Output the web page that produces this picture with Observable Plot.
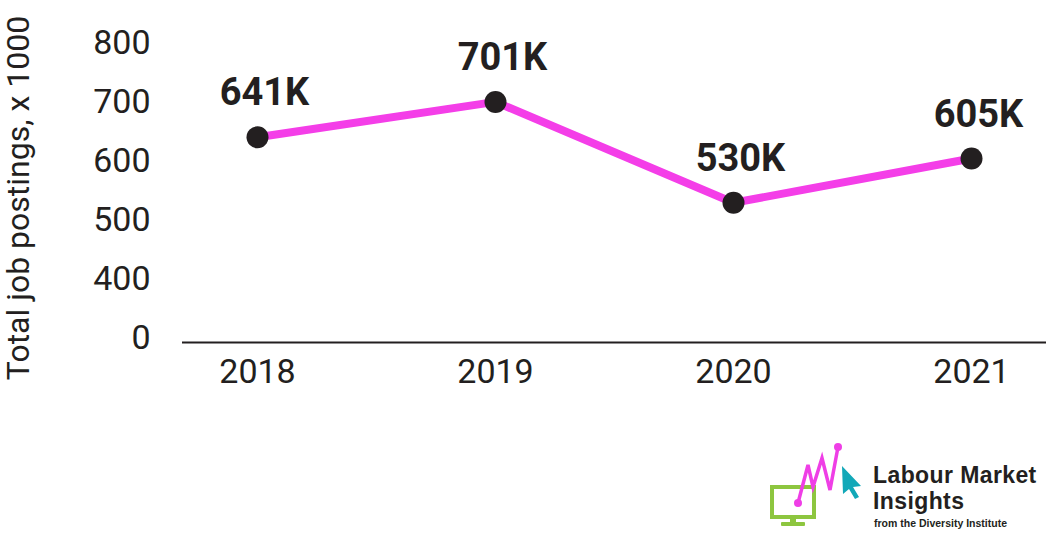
<!DOCTYPE html>
<html>
<head>
<meta charset="utf-8">
<script src="https://cdn.jsdelivr.net/npm/d3@7"></script>
<script src="https://cdn.jsdelivr.net/npm/@observablehq/plot@0.6"></script>
<style>
  html, body { margin: 0; padding: 0; background: #fff; }
  body { width: 1050px; height: 533px; position: relative; overflow: hidden; font-family: Roboto, sans-serif; }
  #logo { position: absolute; left: 0; top: 0; width: 1050px; height: 533px; pointer-events: none; }
</style>
</head>
<body>
<div id="chart"></div>
<svg id="logo" width="1050" height="533" xmlns="http://www.w3.org/2000/svg">
  <g>
    <rect x="772" y="487" width="42" height="30" fill="none" stroke="#8dc63f" stroke-width="4"/>
    <rect x="790" y="517" width="6" height="6" fill="#8dc63f"/>
    <rect x="781" y="522" width="24" height="4" rx="1" fill="#8dc63f"/>
    <polyline points="798,503 808,465 813,487 822,458 830,490 838,447" fill="none" stroke="#ef3ee6" stroke-width="3.5" stroke-linejoin="miter"/>
    <circle cx="798" cy="503" r="4" fill="#ef3ee6"/>
    <circle cx="838" cy="447" r="4" fill="#ef3ee6"/>
    <polygon points="842,466 861,486 853,487 859,497 855,499 849,489 843,494" fill="#12a8b8"/>
    <text x="873" y="483" font-family="'Liberation Sans', Arial, sans-serif" font-weight="bold" font-size="23" fill="#231f20" letter-spacing="0.4">Labour Market</text>
    <text x="873" y="509" font-family="'Liberation Sans', Arial, sans-serif" font-weight="bold" font-size="23" fill="#231f20" letter-spacing="0.4">Insights</text>
    <text x="874" y="527" font-family="'Liberation Sans', Arial, sans-serif" font-weight="bold" font-size="10.5" fill="#231f20">from the Diversity Institute</text>
  </g>
</svg>
<script>
const years = ["2018", "2019", "2020", "2021"];
const postings = [641, 701, 530, 605];
const valueLabels = ["641K", "701K", "530K", "605K"];
const yTicks = [300, 400, 500, 600, 700, 800];
const yTickLabels = ["0", "400", "500", "600", "700", "800"];
const yTitle = "Total job postings, x 1000";

const data = years.map((year, i) => ({year, value: postings[i], label: valueLabels[i]}));
const ink = "#231f20";
const magenta = "#f43ee8";

const chart = Plot.plot({
  width: 1050,
  height: 400,
  marginLeft: 182,
  marginRight: 4,
  marginTop: 43,
  marginBottom: 62,
  style: {fontFamily: "Roboto, sans-serif", fontSize: "34px", color: ink, background: "transparent", overflow: "visible"},
  x: {type: "point", domain: years, padding: 0.31, label: null},
  y: {domain: [300, 800], label: null},
  marks: [
    Plot.axisY({ticks: yTicks, tickFormat: d => yTickLabels[yTicks.indexOf(d)], tickSize: 0, tickPadding: 32, label: null, fill: ink, fontSize: 34}),
    Plot.axisX({tickSize: 0, tickPadding: 20, label: null, fill: ink, fontSize: 34}),
    Plot.ruleY([300], {stroke: ink, strokeWidth: 2, dy: 4}),
    Plot.text([yTitle], {text: d => d, frameAnchor: "left", dx: -164, dy: 7, rotate: -90, textAnchor: "middle", fill: ink, fontSize: 32}),
    Plot.line(data, {x: "year", y: "value", stroke: magenta, strokeWidth: 8}),
    Plot.dot(data, {x: "year", y: "value", r: 11, fill: ink}),
    Plot.text(data, {x: "year", y: "value", text: "label", lineAnchor: "bottom", dy: -32, dx: 7, fontWeight: "bold", fontSize: 38, fill: ink})
  ]
});
document.getElementById("chart").appendChild(chart);
</script>
</body>
</html>
